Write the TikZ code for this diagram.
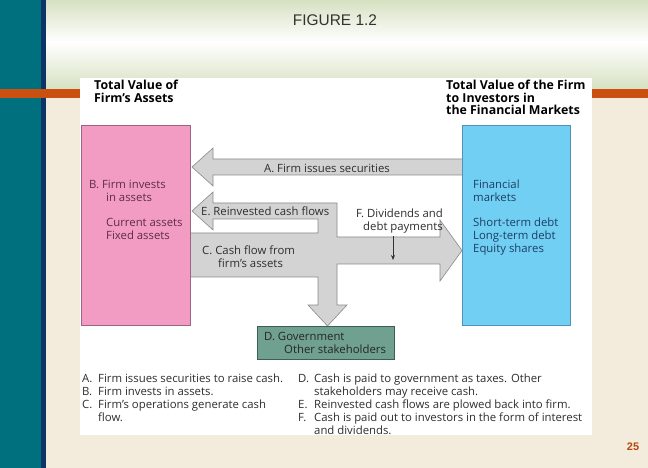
\documentclass[tikz,border=0pt]{standalone}
\usepackage{fontspec}
\setmainfont{Open Sans}
\newfontfamily\slidefont{Liberation Sans}
\usetikzlibrary{positioning,arrows.meta}

\definecolor{slideteal}{HTML}{00707F}
\definecolor{slidenavy}{HTML}{0D3466}
\definecolor{slideorange}{HTML}{C9500F}
\definecolor{slidecream}{HTML}{F3EBDB}
\definecolor{slidegreen}{HTML}{D6E1C2}
\definecolor{assetpink}{HTML}{F29CC4}
\definecolor{assetedge}{HTML}{9C6682}
\definecolor{assettext}{HTML}{5E2C4A}
\definecolor{marketblue}{HTML}{72CFF4}
\definecolor{marketedge}{HTML}{4F93B5}
\definecolor{markettext}{HTML}{1B3F63}
\definecolor{govgreen}{HTML}{70A08F}
\definecolor{govedge}{HTML}{3E5E54}
\definecolor{flowgray}{HTML}{D3D3D3}
\definecolor{flowedge}{HTML}{8A8A8A}
\definecolor{legendtext}{HTML}{2E2E2E}

\newcommand\legitem[1]{\makebox[16bp][l]{#1}}

\begin{document}
\begin{tikzpicture}[x=1bp, y=-1bp,
  figtext/.style={inner sep=0pt, align=left, text=legendtext, font=\fontsize{11.4}{12.9}\selectfont},
  headtext/.style={figtext, text=black, font=\bfseries\fontsize{12.4}{12.7}\selectfont},
  blockarrow/.style={fill=flowgray, draw=flowedge, line width=0.6bp},
  valuebox/.style={draw, line width=0.6bp, inner sep=0pt, anchor=north west}]
  \useasboundingbox (0,0) rectangle (648,468);
  % slide background
  \fill[slidecream] (0,0) rectangle (648,468);
  \shade[top color=slidegreen, bottom color=white] (46,0) rectangle (648,42);
  \shade[top color=white, bottom color=slidegreen] (46,42) rectangle (648,89);
  \fill[slideteal] (0,0) rectangle (41,468);
  \fill[slidenavy] (41,0) rectangle (46,468);
  \fill[slideorange] (0,89) rectangle (648,98);
  \fill[white] (80,78) rectangle (592,435);
  \node[font=\slidefont\fontsize{15.5}{18}\selectfont, text=black!80] (title) at (335,20) {FIGURE 1.2};
  \node[font=\slidefont\bfseries\fontsize{11}{13}\selectfont, text=slideorange!90!black] (page) at (633,447) {25};

  % cash flow arrows
  \draw[blockarrow] (462,159) -- (213,159) -- (213,148) -- (192,167) -- (213,186) -- (213,175) -- (462,175);
  \draw[blockarrow] (192,211) -- (213,192) -- (213,203) -- (337,203) -- (337,237) -- (440,237)
    -- (440,220) -- (462,250.5) -- (440,281) -- (440,264) -- (337,264) -- (337,305) -- (347,305)
    -- (327.5,326) -- (308,305) -- (318,305) -- (318,277) -- (185,277) -- (185,233) -- (318,233)
    -- (318,219) -- (213,219) -- (213,230) -- cycle;

  % value boxes
  \node[valuebox, fill=assetpink, draw=assetedge, minimum width=109bp, minimum height=200bp] (assets) at (81,125) {};
  \node[valuebox, fill=marketblue, draw=marketedge, minimum width=108bp, minimum height=200bp] (markets) at (462,125) {};
  \node[valuebox, fill=govgreen, draw=govedge, minimum width=137bp, minimum height=33bp] (gov) at (257,326) {};

  \node[headtext, anchor=north west] (assethead) at (94,80) {Total Value of\\Firm's Assets};
  \node[headtext, anchor=north west] (markethead) at (446,80) {Total Value of the Firm\\to Investors in\\the Financial Markets};

  \node[figtext, text=assettext, anchor=north west] (invest) at (89,180) {B. Firm invests\\\hspace*{17bp}in assets};
  \node[figtext, text=assettext, anchor=north west] (assetlist) at (106,218) {Current assets\\Fixed assets};
  \node[figtext, text=markettext, anchor=north west] (finmkt) at (473,180) {Financial\\markets};
  \node[figtext, text=markettext, anchor=north west] (debtlist) at (473,218) {Short-term debt\\Long-term debt\\Equity shares};

  \node[figtext, anchor=center] (alabel) at (327,168) {A. Firm issues securities};
  \node[figtext, anchor=west] (elabel) at (201,211) {E. Reinvested cash flows};
  \node[figtext, anchor=north west] (clabel) at (202,246) {C. Cash flow from\\\hspace*{16bp}firm's assets};
  \node[figtext, anchor=north east, align=right] (flabel) at (443,209) {F. Dividends and\\debt payments};
  \node[figtext, text=black!85, anchor=north west] (dlabel) at (264,332) {D. Government\\\hspace*{20bp}Other stakeholders};

  \coordinate (ftip) at (393,260);
  \draw[-{Stealth[length=5bp,width=4bp]}, line width=0.6bp, black!80, shorten <=2bp] (flabel.south -| ftip) -- (ftip);

  % legend
  \node[figtext, anchor=north west] (legleft) at (82,374) {\legitem{A.}Firm issues securities to raise cash.\\\legitem{B.}Firm invests in assets.\\\legitem{C.}Firm's operations generate cash\\\legitem{}flow.};
  \node[figtext, anchor=north west] (legright) at (298,374) {\legitem{D.}Cash is paid to government as taxes. Other\\\legitem{}stakeholders may receive cash.\\\legitem{E.}Reinvested cash flows are plowed back into firm.\\\legitem{F.}Cash is paid out to investors in the form of interest\\\legitem{}and dividends.};
\end{tikzpicture}
\end{document}
